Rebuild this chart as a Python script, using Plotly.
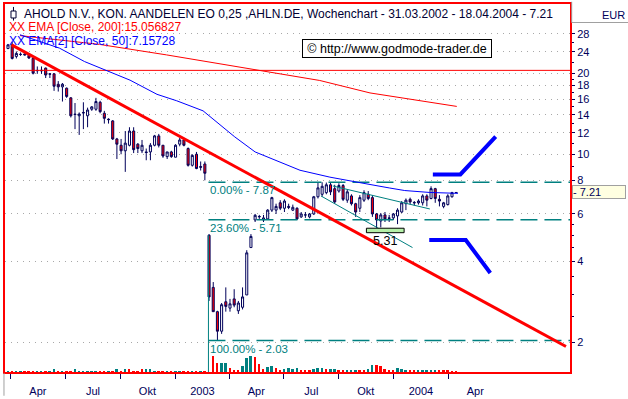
import math
import pandas as pd
import plotly.graph_objects as go

# ---------------- data ----------------
week_dates = pd.date_range("2002-03-27", periods=108, freq="7D")

opens = [24.7, 25.5, 23.1, 23.5, 23.6, 23.3, 22.7, 20.5, 20.4, 20.9,
         19.9, 19.9, 18.2, 17.8, 17.6, 16.2, 14.1, 13.9, 14.3, 13.9,
         14.7, 14.7, 15.6, 14.2, 13.5, 13.3, 11.4, 10.8, 10.3, 10.8,
         12.2, 10.9, 10.3, 10.2, 10.2, 10.8, 11.7, 10.8, 9.8, 10.2,
         9.75, 10.9, 11.3, 10.5, 9.1, 10.0, 9.0, 9.2,
         5.0, 3.2, 2.6, 2.2, 2.83, 2.68, 2.9, 2.62, 2.7, 3.0,
         4.5, 5.7, 5.85, 5.7, 5.75, 6.2, 6.2, 6.6, 6.3, 6.4,
         6.2, 6.3, 5.85, 5.95, 5.85, 6.0, 6.95, 7.1, 7.2, 7.7,
         7.45, 7.3, 7.65, 6.75, 7.0, 6.55, 6.3, 6.75, 7.1, 6.9,
         6.0, 5.65, 5.95, 5.8, 5.8, 5.9, 6.1, 6.55, 6.8, 6.62,
         6.6, 6.6, 7.0, 6.85, 7.45, 6.8, 6.4, 6.5, 6.95, 7.2]
highs = [25.7, 26.1, 24.1, 23.9, 23.7, 23.5, 22.8, 21.2, 21.2, 21.0,
         20.0, 20.0, 18.7, 18.4, 17.7, 16.3, 15.5, 14.3, 15.6, 14.9,
         15.1, 16.2, 15.8, 14.5, 13.6, 13.4, 11.5, 11.4, 12.2, 12.6,
         12.6, 11.0, 11.3, 10.5, 11.0, 11.8, 11.9, 10.8, 10.2, 10.3,
         10.9, 11.5, 11.5, 10.6, 10.0, 10.2, 9.4, 9.4,
         5.05, 3.35, 2.62, 2.8, 3.2, 2.9, 3.15, 2.85, 3.2, 4.4,
         5.05, 6.0, 5.95, 5.95, 6.25, 6.95, 6.55, 6.75, 6.8, 6.55,
         6.5, 6.35, 6.1, 6.1, 6.05, 7.0, 7.87, 7.87, 7.85, 7.85,
         7.7, 7.8, 7.75, 7.4, 7.1, 6.6, 7.05, 7.35, 7.3, 7.05,
         6.05, 6.05, 6.1, 5.95, 6.05, 6.3, 6.7, 6.85, 6.9, 6.7,
         6.8, 7.1, 7.1, 7.6, 7.5, 7.05, 6.65, 7.1, 7.25, 7.23]
lows = [24.6, 22.5, 22.7, 23.2, 23.3, 22.6, 19.8, 19.9, 19.9, 19.2,
        19.2, 17.2, 17.1, 15.7, 16.2, 13.7, 12.4, 11.8, 12.4, 12.6,
        14.5, 14.5, 14.2, 13.0, 13.0, 11.3, 9.6, 10.0, 8.6, 10.7,
        10.1, 10.1, 10.1, 9.5, 9.5, 10.7, 10.6, 9.7, 9.6, 9.7,
        9.75, 10.7, 10.7, 9.0, 9.0, 8.8, 8.7, 8.0,
        2.85, 2.6, 2.03, 2.15, 2.6, 2.6, 2.7, 2.55, 2.65, 3.0,
        4.5, 5.6, 5.75, 5.6, 5.7, 6.1, 6.0, 6.2, 6.1, 6.25,
        6.15, 5.7, 5.8, 5.8, 5.78, 5.95, 6.85, 6.95, 7.1, 7.05,
        6.55, 7.2, 6.7, 6.6, 6.45, 5.85, 6.1, 6.65, 6.75, 5.85,
        5.31, 5.35, 5.6, 5.6, 5.7, 5.5, 6.05, 6.2, 6.5, 6.45,
        6.5, 6.45, 6.4, 6.8, 6.6, 6.4, 6.3, 6.45, 6.9, 7.19]
closes = [25.5, 22.7, 23.7, 23.5, 23.4, 22.8, 20.0, 20.45, 20.5, 19.7,
          19.85, 17.9, 17.8, 18.2, 16.4, 13.9, 14.05, 14.1, 14.25, 14.6,
          15.0, 15.7, 14.4, 13.6, 13.45, 11.4, 10.9, 10.3, 11.0, 12.2,
          10.4, 10.5, 10.8, 10.15, 10.8, 11.7, 10.8, 9.85, 10.2, 9.8,
          10.8, 11.3, 10.8, 9.1, 9.9, 8.85, 8.95, 8.5,
          2.95, 2.6, 2.2, 2.76, 2.72, 2.78, 2.75, 2.8, 2.95, 4.3,
          4.95, 5.93, 5.87, 5.8, 6.2, 6.9, 6.4, 6.3, 6.7, 6.35,
          6.35, 5.75, 6.0, 5.95, 6.0, 6.95, 7.5, 7.6, 7.7, 7.25,
          6.65, 7.65, 6.8, 7.25, 6.55, 6.1, 6.9, 7.2, 6.85, 6.0,
          5.7, 5.95, 5.75, 5.78, 6.0, 6.2, 6.6, 6.75, 6.65, 6.6,
          6.7, 7.0, 6.75, 7.45, 6.85, 6.7, 6.6, 7.0, 7.2, 7.21]

# weekly volume (Mio. Stueck, estimated) and colour flag (1 = teal, 0 = red)
volumes = [1, 1, 1, 1, 1, 1, 1, 1, 1, 1,
           1, 3, 1, 1, 1, 1, 3, 1, 1, 1,
           1, 1, 1, 1, 1, 1, 3, 1, 3, 3,
           1, 1, 3, 3, 3, 1, 1, 1, 1, 1,
           1, 1, 1, 1, 1, 1, 1, 1,
           0, 15.7, 9, 9, 9, 4, 1.7, 1.7, 5.7, 14,
           15.7, 14.7, 8, 3, 5, 5.7, 4, 2.3, 3, 4,
           3.3, 4, 1.7, 1.3, 1.7, 3.3, 4, 4, 3, 3,
           3, 1.7, 1.3, 1.7, 2.3, 2.3, 2.3, 1.7, 3, 7.3,
           7.3, 5.7, 3.3, 1.7, 1.3, 4, 3.3, 2.3, 1.7, 1.7,
           1.7, 1.7, 2.3, 2.3, 2.3, 1.7, 1.7, 1.7, 1, 1]
vol_up = [1, 0, 1, 1, 0, 0, 0, 1, 1, 0,
          1, 1, 0, 1, 0, 0, 1, 1, 1, 1,
          1, 1, 0, 0, 1, 0, 1, 0, 1, 0,
          0, 0, 0, 1, 1, 1, 0, 0, 1, 0,
          1, 1, 0, 0, 1, 0, 1, 0,
          1, 0, 0, 1, 1, 0, 0, 0, 1, 1,
          1, 0, 0, 0, 1, 1, 0, 0, 1, 1,
          1, 1, 0, 0, 0, 1, 1, 1, 0, 1,
          1, 0, 0, 1, 1, 1, 0, 0, 1, 1,
          0, 0, 0, 0, 0, 1, 1, 1, 0, 0,
          1, 1, 1, 1, 1, 0, 0, 0, 0, 0]

ema200_dates = ["2002-04-16", "2002-08-27", "2002-12-17", "2003-08-30", "2003-11-22", "2004-04-15"]
ema200_vals = [27.6, 25.6, 23.4, 18.8, 16.9, 15.056827]

ema50_dates = ["2002-04-16", "2002-06-21", "2002-08-02", "2002-10-17", "2002-12-01",
               "2003-01-03", "2003-02-16", "2003-03-13", "2003-04-10", "2003-05-14",
               "2003-06-16", "2003-07-28", "2003-09-16", "2003-10-28", "2003-11-22",
               "2003-12-25", "2004-01-19", "2004-03-01", "2004-04-17"]
ema50_vals = [27.8, 24.8, 22.1, 18.85, 16.7,
              15.8, 14.5, 13.1, 11.6, 10.2,
              9.5, 8.72, 8.22, 7.88, 7.72,
              7.49, 7.33, 7.21, 7.15728]

trend_dates = ["2002-04-02", "2004-10-14 12:00"]
trend_vals = [25.5, 1.93]

channel_upper_dates = ["2003-09-21", "2004-03-01"]
channel_upper_vals = [7.62, 6.26]
channel_lower_dates = ["2003-09-01", "2004-02-01"]
channel_lower_vals = [7.0, 4.50]

proj_up_dates = ["2004-03-06", "2004-04-21", "2004-06-19"]
proj_up_vals = [8.41, 8.41, 11.63]
proj_dn_dates = ["2004-02-29", "2004-04-30", "2004-06-10"]
proj_dn_vals = [4.80, 4.80, 3.62]

fib_levels = [7.87, 5.71, 2.03]
fib_pct = ["0.00%", "23.60%", "100.00%"]
fib_start = "2003-02-25"
fib_anchor_top = 5.0

hline_level = 20.5
low_box_dates = ["2003-11-16", "2004-01-18"]
low_box_vals = [5.31, 5.11]
low_label_date = "2003-12-17"

y_tickvals = [2, 4, 6, 8, 10, 12, 14, 16, 18, 20, 24, 28]
y_minor = [2.5, 3, 3.5, 4.5, 5, 5.5, 7, 9, 11, 13, 15, 17, 19, 22, 26]
x_label_dates = ["2002-05-16", "2002-08-16", "2002-11-15", "2003-02-15", "2003-05-16",
                 "2003-08-16", "2003-11-15", "2004-02-15", "2004-05-16"]
x_labels = ["Apr", "Jul", "Okt", "2003", "Apr", "Jul", "Okt", "2004", "Apr"]
x_tick_dates = ["2002-04-01", "2002-07-01", "2002-10-01", "2003-01-01", "2003-04-01",
                "2003-07-01", "2003-10-01", "2004-01-01", "2004-04-01"]

last_close = 7.21
title_text = "AHOLD N.V., KON. AANDELEN EO 0,25 ,AHLN.DE, Wochenchart - 31.03.2002 - 18.04.2004 - 7.21"
ema200_text = "XX EMA [Close, 200]:15.056827"
ema50_text = "XX EMA[2] [Close, 50]:7.15728"

# ---------------- styling ----------------
NAVY = "#00005a"
TEAL = "#008080"
RED = "#ff0000"
BLUE = "#0000ff"
FONT = "Liberation Sans, Arial, sans-serif"
X_RANGE = ["2002-03-22", "2004-10-21 05:00"]
Y_RANGE = [0.19074, 1.55838]
y_bottom = 10 ** Y_RANGE[0]

fig = go.Figure()

# volume (overlay axis)
fig.add_trace(go.Bar(
    x=week_dates, y=volumes, yaxis="y2",
    marker=dict(color=[TEAL if u else RED for u in vol_up], line=dict(width=0)),
    width=3.3 * 86400000, hoverinfo="skip", showlegend=False))

# candles
fig.add_trace(go.Candlestick(
    x=week_dates, open=opens, high=highs, low=lows, close=closes,
    increasing=dict(line=dict(color=NAVY, width=1), fillcolor="white"),
    decreasing=dict(line=dict(color=NAVY, width=1), fillcolor=RED),
    whiskerwidth=0, hoverinfo="skip", showlegend=False))

# red horizontal line
fig.add_trace(go.Scatter(x=X_RANGE, y=[hline_level, hline_level], mode="lines",
                         line=dict(color=RED, width=1), hoverinfo="skip", showlegend=False))

# fibonacci levels
for lvl in fib_levels:
    fig.add_trace(go.Scatter(x=[fib_start, X_RANGE[1]], y=[lvl, lvl], mode="lines",
                             line=dict(color=TEAL, width=1.5, dash="17px,7px"),
                             hoverinfo="skip", showlegend=False))
fig.add_trace(go.Scatter(x=[fib_start, fib_start], y=[fib_anchor_top, y_bottom * 0.97], mode="lines",
                         line=dict(color=TEAL, width=1), hoverinfo="skip", showlegend=False))

# channel lines
fig.add_trace(go.Scatter(x=channel_upper_dates, y=channel_upper_vals, mode="lines",
                         line=dict(color=TEAL, width=1), hoverinfo="skip", showlegend=False))
fig.add_trace(go.Scatter(x=channel_lower_dates, y=channel_lower_vals, mode="lines",
                         line=dict(color=TEAL, width=1), hoverinfo="skip", showlegend=False))

# low marker box
fig.add_trace(go.Scatter(
    x=[low_box_dates[0], low_box_dates[1], low_box_dates[1], low_box_dates[0], low_box_dates[0]],
    y=[low_box_vals[0], low_box_vals[0], low_box_vals[1], low_box_vals[1], low_box_vals[0]],
    mode="lines", fill="toself", fillcolor="#b4f0a8", line=dict(color="#000000", width=1),
    hoverinfo="skip", showlegend=False))

# EMAs
fig.add_trace(go.Scatter(x=ema200_dates, y=ema200_vals, mode="lines",
                         line=dict(color=RED, width=1), hoverinfo="skip", showlegend=False))
fig.add_trace(go.Scatter(x=ema50_dates, y=ema50_vals, mode="lines",
                         line=dict(color=BLUE, width=1), hoverinfo="skip", showlegend=False))

# trend line
fig.add_trace(go.Scatter(x=trend_dates, y=trend_vals, mode="lines",
                         line=dict(color=RED, width=3), hoverinfo="skip", showlegend=False))

# projections
fig.add_trace(go.Scatter(x=proj_up_dates, y=proj_up_vals, mode="lines",
                         line=dict(color=BLUE, width=4), hoverinfo="skip", showlegend=False))
fig.add_trace(go.Scatter(x=proj_dn_dates, y=proj_dn_vals, mode="lines",
                         line=dict(color=BLUE, width=4), hoverinfo="skip", showlegend=False))

annotations = []
for lvl, pct in zip(fib_levels, fib_pct):
    annotations.append(dict(x=fib_start, y=math.log10(lvl), xref="x", yref="y",
                            text=f"{pct} - {lvl:.2f}", showarrow=False,
                            xanchor="left", yanchor="top", xshift=0, yshift=0,
                            font=dict(family=FONT, size=11.5, color=TEAL)))
annotations.append(dict(x=low_label_date, y=math.log10(low_box_vals[1]), xref="x", yref="y",
                        text=f"{low_box_vals[0]:.2f}", showarrow=False,
                        xanchor="center", yanchor="top", yshift=1,
                        font=dict(family=FONT, size=12.5, color="#000000")))
annotations.append(dict(x=0.0301, y=0.9718, xref="paper", yref="paper", text=title_text,
                        showarrow=False, xanchor="left", yanchor="middle",
                        font=dict(family=FONT, size=12, color="#000033")))
annotations.append(dict(x=0.0035, y=0.9382, xref="paper", yref="paper", text=ema200_text,
                        showarrow=False, xanchor="left", yanchor="middle",
                        font=dict(family=FONT, size=12, color=RED)))
annotations.append(dict(x=0.0035, y=0.9005, xref="paper", yref="paper", text=ema50_text,
                        showarrow=False, xanchor="left", yanchor="middle",
                        font=dict(family=FONT, size=12, color=BLUE)))
annotations.append(dict(x=0.6938, y=0.8804, xref="paper", yref="paper",
                        text="\u00a9 http://www.godmode-trader.de",
                        showarrow=False, xanchor="center", yanchor="middle",
                        bgcolor="white", bordercolor="#000000", borderwidth=1, borderpad=1,
                        width=186, height=15,
                        font=dict(family=FONT, size=12.5, color="#000000")))
annotations.append(dict(x=1.077, y=0.9712, xref="paper", yref="paper", text="EUR",
                        showarrow=False, xanchor="center", yanchor="middle",
                        font=dict(family=FONT, size=11, color=NAVY)))
annotations.append(dict(x=1, y=math.log10(last_close), xref="paper", yref="y",
                        text="-\u00a0" + f"{last_close:.2f}", showarrow=False,
                        xanchor="left", yanchor="middle", xshift=2, align="left",
                        width=52, height=12, borderpad=0,
                        bgcolor="#ffffe1", bordercolor="#a0a0a0", borderwidth=1,
                        font=dict(family=FONT, size=11, color=NAVY)))

shapes = [
    dict(type="line", xref="paper", yref="paper", x0=1.003, x1=1.003, y0=0.9497, y1=1.006,
         line=dict(color="#a0a0a0", width=1)),
    dict(type="line", xref="paper", yref="paper", x0=1.003, x1=1.11, y0=0.9497, y1=0.9497,
         line=dict(color="#a0a0a0", width=1)),
    dict(type="line", xref="paper", yref="paper", x0=-0.0018, x1=-0.0018, y0=-0.003, y1=-0.0645,
         line=dict(color="#a0a0a0", width=1)),
    dict(type="line", xref="paper", yref="paper", x0=0.0150, x1=0.0150, y0=0.955, y1=0.992,
         line=dict(color="#000033", width=1)),
    dict(type="rect", xref="paper", yref="paper", x0=0.0106, x1=0.0195, y0=0.962, y1=0.981,
         fillcolor="white", line=dict(color="#000033", width=1)),
]

fig.update_layout(
    width=628, height=399,
    margin=dict(l=5, r=58, t=2, b=25),
    paper_bgcolor="white", plot_bgcolor="white",
    font=dict(family=FONT, size=11, color=NAVY),
    showlegend=False,
    bargap=0,
    annotations=annotations,
    shapes=shapes,
    xaxis=dict(
        type="date", range=X_RANGE, rangeslider=dict(visible=False),
        showline=True, linecolor=RED, linewidth=2, mirror=True,
        showgrid=False, zeroline=False,
        tickvals=x_label_dates, ticktext=x_labels,
        ticks="outside", ticklen=8, tickcolor="rgba(0,0,0,0)",
        tickfont=dict(family=FONT, size=11, color=NAVY),
        minor=dict(tickvals=x_tick_dates, ticks="outside", ticklen=5,
                   tickcolor=NAVY, tickwidth=1, showgrid=False),
    ),
    yaxis=dict(
        type="log", range=Y_RANGE, side="right",
        showline=True, linecolor=RED, linewidth=2, mirror=True,
        tickvals=y_tickvals, ticktext=[str(v) for v in y_tickvals],
        ticks="outside", ticklen=3, tickcolor=NAVY,
        tickfont=dict(family=FONT, size=11, color=NAVY),
        showgrid=True, gridcolor="#a8a8a8", gridwidth=1, griddash="1px,5px",
        zeroline=False,
        minor=dict(tickvals=y_minor, ticks="outside", ticklen=1.5, tickcolor=NAVY,
                   showgrid=False),
    ),
    yaxis2=dict(overlaying="y", range=[0, 372], visible=False, fixedrange=True),
)

fig.write_html("out.html",
               config={"displayModeBar": False},
               post_script="document.body.style.margin='0';document.body.style.padding='0';")
